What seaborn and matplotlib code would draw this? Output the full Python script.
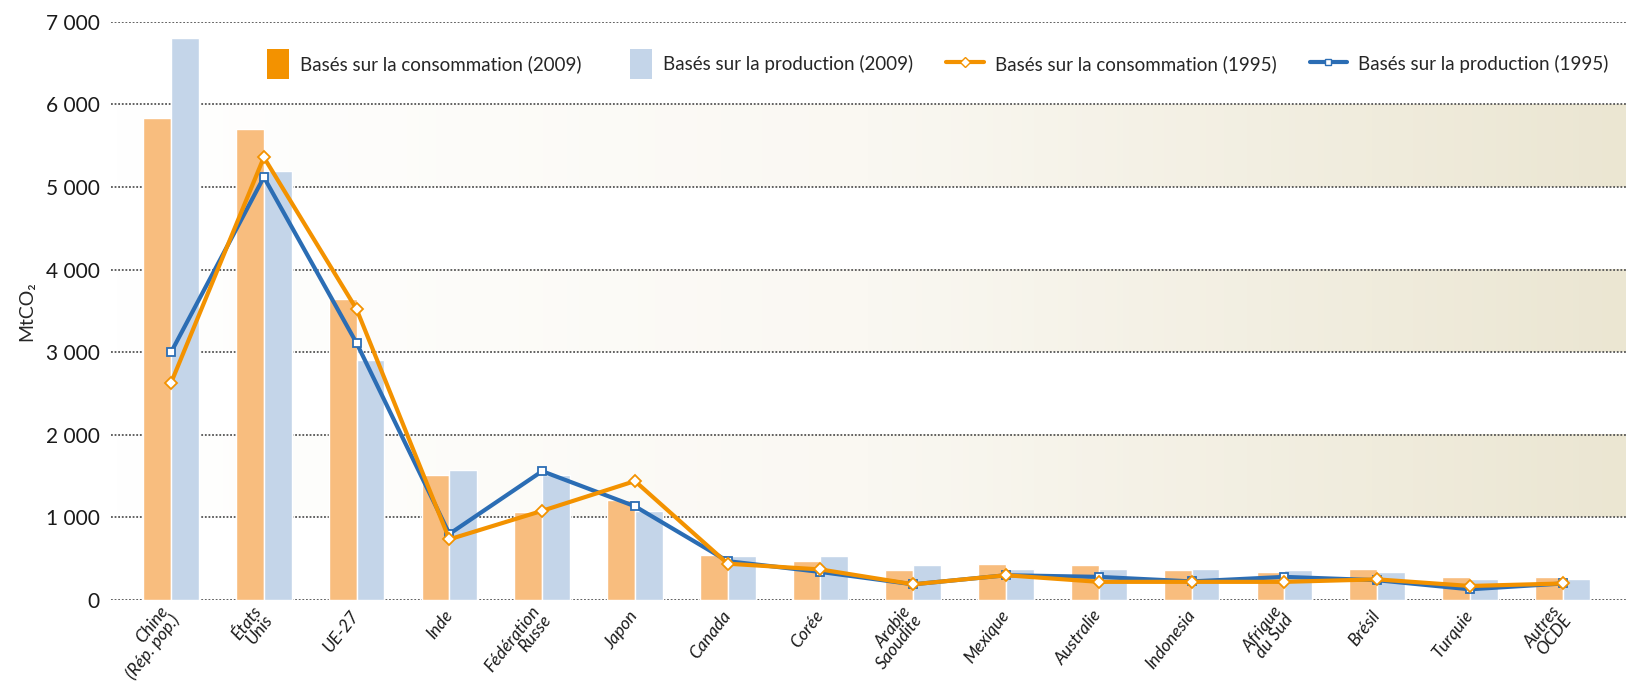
import numpy as np
import pandas as pd
import matplotlib
matplotlib.use("Agg")
import matplotlib.pyplot as plt
import seaborn as sns
from matplotlib.colors import LinearSegmentedColormap
from matplotlib.patches import Patch, Rectangle
from matplotlib.lines import Line2D
from matplotlib.legend_handler import HandlerPatch
from matplotlib.ticker import FuncFormatter

# data (MtCO2)
pays = ["Chine\n(Rép. pop.)", "États\nUnis", "UE-27", "Inde", "Fédération\nRusse", "Japon",
        "Canada", "Corée", "Arabie\nSaoudite", "Mexique", "Australie", "Indonesia",
        "Afrique\ndu Sud", "Brésil", "Turquie", "Autres\nOCDE"]
conso_2009 = [5830, 5700, 3640, 1510, 1060, 1210, 550, 470, 360, 440, 420, 360, 340, 380, 275, 275]
prod_2009 = [6810, 5190, 2900, 1580, 1510, 1080, 530, 530, 420, 380, 380, 380, 360, 340, 255, 255]
conso_1995 = [2630, 5360, 3520, 735, 1080, 1440, 440, 370, 190, 300, 220, 220, 220, 250, 170, 200]
prod_1995 = [3000, 5120, 3110, 800, 1560, 1135, 470, 340, 190, 300, 280, 225, 280, 240, 130, 200]

lab_c09 = "Basés sur la consommation (2009)"
lab_p09 = "Basés sur la production (2009)"
lab_c95 = "Basés sur la consommation (1995)"
lab_p95 = "Basés sur la production (1995)"

sns.set_theme(style="white")
plt.rcParams["font.family"] = ["Lato", "DejaVu Sans"]

ORANGE_BAR = "#F8BD7E"
BLUE_BAR = "#C4D5E9"
ORANGE = "#F39200"
BLUE = "#2B6DB4"

fig = plt.figure(figsize=(16.29, 6.83), dpi=100)
ax = fig.add_axes([0.068, 0.1215, 0.93, 0.8465])

n = len(pays)
df = pd.DataFrame({
    "pays": pays * 2,
    "valeur": conso_2009 + prod_2009,
    "serie": [lab_c09] * n + [lab_p09] * n,
})

# shaded bands with a horizontal gradient
xmin, xmax = -0.65, n - 0.32
cmap = LinearSegmentedColormap.from_list("band", ["#FFFFFF", "#FAF8F2", "#EBE6D2"])
grad = np.linspace(0, 1, 256).reshape(1, -1)
for lo in (1000, 3000, 5000):
    ax.imshow(grad, extent=(xmin, xmax, lo, lo + 1000), aspect="auto", cmap=cmap, zorder=0)

for y in range(0, 8000, 1000):
    ax.axhline(y, color="#555555", lw=1.3, ls=(0, (1, 1)), zorder=1)

sns.barplot(data=df, x="pays", y="valeur", hue="serie", palette=[ORANGE_BAR, BLUE_BAR],
            width=0.6, dodge=True, legend=False, ax=ax, zorder=2, saturation=1)

xs = np.arange(n)
sns.lineplot(x=xs, y=prod_1995, color=BLUE, lw=3, marker="s", markersize=6,
             markerfacecolor="white", markeredgecolor=BLUE, markeredgewidth=1.3, ax=ax, zorder=4)
sns.lineplot(x=xs, y=conso_1995, color=ORANGE, lw=3, marker="D", markersize=6,
             markerfacecolor="white", markeredgecolor=ORANGE, markeredgewidth=1.3, ax=ax, zorder=5)

ax.set_xlim(xmin, xmax)
ax.set_ylim(0, 7000)
ax.set_yticks(range(0, 8000, 1000))
ax.yaxis.set_major_formatter(FuncFormatter(lambda v, p: f"{int(v):,}".replace(",", " ")))
ax.tick_params(axis="y", labelsize=15, pad=8, length=0, labelcolor="#1a1a1a")
ax.set_ylabel("MtCO₂", fontsize=14)
ax.yaxis.set_label_coords(-0.05, 0.5)
ax.set_xlabel("")
ax.set_xticks(xs)
ax.set_xticklabels(pays, rotation=52, ha="right", va="center", rotation_mode="anchor",
                   fontsize=12.5, style="italic", linespacing=0.85, color="#1a1a1a")
ax.tick_params(axis="x", length=0, pad=9)
for s in ax.spines.values():
    s.set_visible(False)
ax.grid(False)


def square_patch(legend, orig_handle, xdescent, ydescent, width, height, fontsize):
    w = 16
    h = 21
    return Rectangle((width - w - xdescent, -ydescent + height / 2 - h / 2), w, h)


handles = [
    Patch(facecolor=ORANGE, edgecolor="none"),
    Patch(facecolor=BLUE_BAR, edgecolor="none"),
    Line2D([], [], color=ORANGE, lw=3, marker="D", markersize=5, markerfacecolor="white"),
    Line2D([], [], color=BLUE, lw=3, marker="s", markersize=5, markerfacecolor="white"),
]
ax.legend(handles, [lab_c09, lab_p09, lab_c95, lab_p95], ncol=4, frameon=False,
          loc="center right", bbox_to_anchor=(1.0, 0.927), fontsize=13.5,
          handlelength=2.0, handleheight=1.4, columnspacing=1.75, handletextpad=0.6,
          handler_map={Patch: HandlerPatch(patch_func=square_patch)})

fig.savefig("out.png", dpi=100)
